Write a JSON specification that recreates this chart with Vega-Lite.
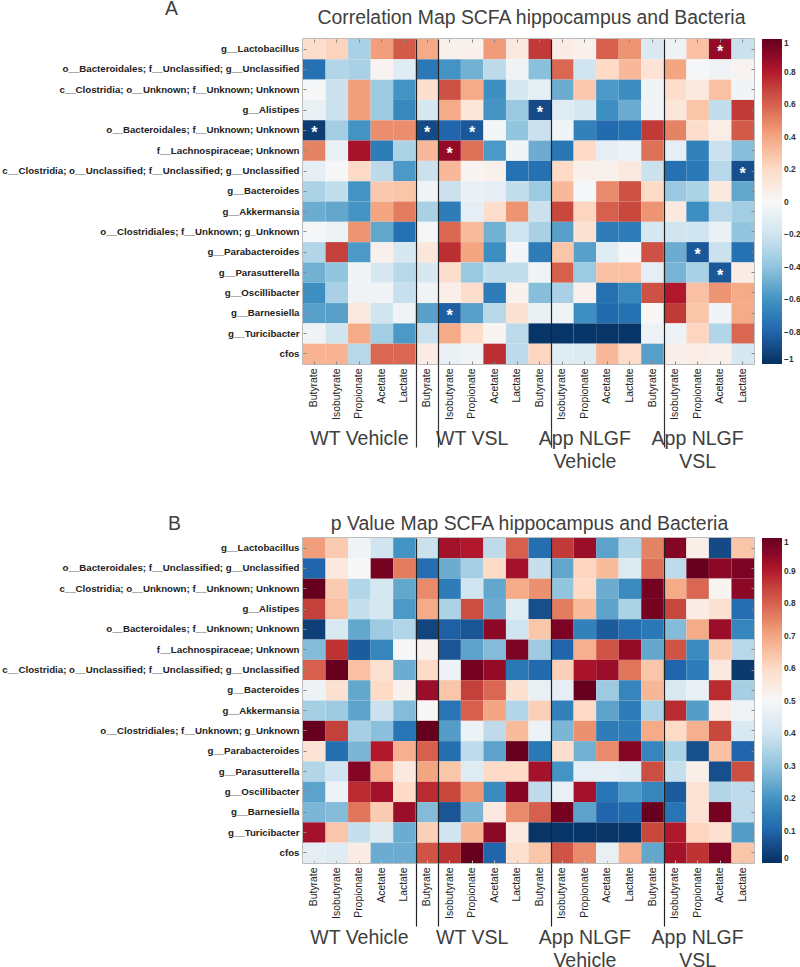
{"$schema":"https://vega.github.io/schema/vega-lite/v6.json","background":"white","padding":{"left":0,"top":-3,"right":0,"bottom":0},"spacing":40,"resolve":{"scale":{"color":"independent"},"legend":{"color":"independent"}},"params":[{"name":"taxa","value":["g__Lactobacillus","o__Bacteroidales; f__Unclassified; g__Unclassified","c__Clostridia; o__Unknown; f__Unknown; Unknown","g__Alistipes","o__Bacteroidales; f__Unknown; Unknown","f__Lachnospiraceae; Unknown","c__Clostridia; o__Unclassified; f__Unclassified; g__Unclassified","g__Bacteroides","g__Akkermansia","o__Clostridiales; f__Unknown; g_Unknown","g__Parabacteroides","g__Parasutterella","g__Oscillibacter","g__Barnesiella","g__Turicibacter","cfos"]},{"name":"acids","value":["Butyrate","Isobutyrate","Propionate","Acetate","Lactate"]}],"config":{"font":"Liberation Sans","view":{"stroke":"#a8a8a8","strokeWidth":1.5},"axis":{"labelOverlap":false,"labelBound":false,"labelFlush":false}},"datasets":{"stars":[{"row":1,"col":19},{"row":4,"col":11},{"row":5,"col":1},{"row":5,"col":6},{"row":5,"col":8},{"row":6,"col":7},{"row":7,"col":20},{"row":11,"col":18},{"row":12,"col":19},{"row":14,"col":7}],"corr":[{"row":1,"col":1,"value":0.18},{"row":1,"col":2,"value":0.23},{"row":1,"col":3,"value":-0.33},{"row":1,"col":4,"value":0.42},{"row":1,"col":5,"value":0.62},{"row":1,"col":6,"value":0.38},{"row":1,"col":7,"value":0.05},{"row":1,"col":8,"value":0.05},{"row":1,"col":9,"value":0.43},{"row":1,"col":10,"value":0.1},{"row":1,"col":11,"value":0.72},{"row":1,"col":12,"value":0.08},{"row":1,"col":13,"value":0.05},{"row":1,"col":14,"value":0.6},{"row":1,"col":15,"value":0.45},{"row":1,"col":16,"value":-0.15},{"row":1,"col":17,"value":-0.05},{"row":1,"col":18,"value":0.3},{"row":1,"col":19,"value":0.88},{"row":1,"col":20,"value":-0.22},{"row":2,"col":1,"value":-0.75},{"row":2,"col":2,"value":-0.3},{"row":2,"col":3,"value":-0.33},{"row":2,"col":4,"value":0.03},{"row":2,"col":5,"value":-0.12},{"row":2,"col":6,"value":-0.72},{"row":2,"col":7,"value":-0.6},{"row":2,"col":8,"value":-0.48},{"row":2,"col":9,"value":-0.27},{"row":2,"col":10,"value":-0.04},{"row":2,"col":11,"value":-0.42},{"row":2,"col":12,"value":0.58},{"row":2,"col":13,"value":-0.2},{"row":2,"col":14,"value":0.2},{"row":2,"col":15,"value":0.33},{"row":2,"col":16,"value":0.14},{"row":2,"col":17,"value":0.4},{"row":2,"col":18,"value":-0.01},{"row":2,"col":19,"value":-0.04},{"row":2,"col":20,"value":0.03},{"row":3,"col":1,"value":-0.01},{"row":3,"col":2,"value":-0.22},{"row":3,"col":3,"value":0.42},{"row":3,"col":4,"value":-0.37},{"row":3,"col":5,"value":-0.6},{"row":3,"col":6,"value":0.17},{"row":3,"col":7,"value":0.65},{"row":3,"col":8,"value":0.38},{"row":3,"col":9,"value":-0.62},{"row":3,"col":10,"value":-0.17},{"row":3,"col":11,"value":-0.1},{"row":3,"col":12,"value":-0.5},{"row":3,"col":13,"value":0.27},{"row":3,"col":14,"value":-0.58},{"row":3,"col":15,"value":-0.63},{"row":3,"col":16,"value":-0.03},{"row":3,"col":17,"value":0.18},{"row":3,"col":18,"value":0.1},{"row":3,"col":19,"value":0.3},{"row":3,"col":20,"value":-0.03},{"row":4,"col":1,"value":-0.08},{"row":4,"col":2,"value":-0.22},{"row":4,"col":3,"value":0.42},{"row":4,"col":4,"value":-0.37},{"row":4,"col":5,"value":-0.65},{"row":4,"col":6,"value":-0.17},{"row":4,"col":7,"value":0.38},{"row":4,"col":8,"value":0.12},{"row":4,"col":9,"value":-0.6},{"row":4,"col":10,"value":-0.38},{"row":4,"col":11,"value":-0.9},{"row":4,"col":12,"value":-0.12},{"row":4,"col":13,"value":-0.18},{"row":4,"col":14,"value":-0.62},{"row":4,"col":15,"value":-0.5},{"row":4,"col":16,"value":-0.03},{"row":4,"col":17,"value":0.12},{"row":4,"col":18,"value":0.28},{"row":4,"col":19,"value":-0.25},{"row":4,"col":20,"value":0.72},{"row":5,"col":1,"value":-0.95},{"row":5,"col":2,"value":-0.35},{"row":5,"col":3,"value":-0.6},{"row":5,"col":4,"value":0.47},{"row":5,"col":5,"value":0.47},{"row":5,"col":6,"value":-0.9},{"row":5,"col":7,"value":-0.8},{"row":5,"col":8,"value":-0.85},{"row":5,"col":9,"value":-0.02},{"row":5,"col":10,"value":-0.4},{"row":5,"col":11,"value":-0.22},{"row":5,"col":12,"value":-0.03},{"row":5,"col":13,"value":-0.68},{"row":5,"col":14,"value":-0.78},{"row":5,"col":15,"value":-0.75},{"row":5,"col":16,"value":0.72},{"row":5,"col":17,"value":0.5},{"row":5,"col":18,"value":0.18},{"row":5,"col":19,"value":0.07},{"row":5,"col":20,"value":0.62},{"row":6,"col":1,"value":0.5},{"row":6,"col":2,"value":-0.07},{"row":6,"col":3,"value":0.83},{"row":6,"col":4,"value":-0.7},{"row":6,"col":5,"value":-0.32},{"row":6,"col":6,"value":0.33},{"row":6,"col":7,"value":0.88},{"row":6,"col":8,"value":0.55},{"row":6,"col":9,"value":-0.58},{"row":6,"col":10,"value":-0.03},{"row":6,"col":11,"value":-0.5},{"row":6,"col":12,"value":-0.73},{"row":6,"col":13,"value":0.2},{"row":6,"col":14,"value":-0.1},{"row":6,"col":15,"value":-0.06},{"row":6,"col":16,"value":0.55},{"row":6,"col":17,"value":-0.1},{"row":6,"col":18,"value":-0.68},{"row":6,"col":19,"value":-0.22},{"row":6,"col":20,"value":-0.43},{"row":7,"col":1,"value":-0.1},{"row":7,"col":2,"value":-0.01},{"row":7,"col":3,"value":0.2},{"row":7,"col":4,"value":-0.27},{"row":7,"col":5,"value":-0.58},{"row":7,"col":6,"value":-0.22},{"row":7,"col":7,"value":0.33},{"row":7,"col":8,"value":0.02},{"row":7,"col":9,"value":0.05},{"row":7,"col":10,"value":-0.75},{"row":7,"col":11,"value":-0.75},{"row":7,"col":12,"value":0.2},{"row":7,"col":13,"value":0.05},{"row":7,"col":14,"value":0.05},{"row":7,"col":15,"value":0.1},{"row":7,"col":16,"value":-0.22},{"row":7,"col":17,"value":-0.75},{"row":7,"col":18,"value":-0.72},{"row":7,"col":19,"value":-0.28},{"row":7,"col":20,"value":-0.88},{"row":8,"col":1,"value":-0.32},{"row":8,"col":2,"value":-0.25},{"row":8,"col":3,"value":-0.6},{"row":8,"col":4,"value":0.27},{"row":8,"col":5,"value":0.28},{"row":8,"col":6,"value":-0.04},{"row":8,"col":7,"value":-0.22},{"row":8,"col":8,"value":-0.07},{"row":8,"col":9,"value":-0.1},{"row":8,"col":10,"value":-0.25},{"row":8,"col":11,"value":-0.37},{"row":8,"col":12,"value":0.33},{"row":8,"col":13,"value":-0.01},{"row":8,"col":14,"value":0.48},{"row":8,"col":15,"value":0.65},{"row":8,"col":16,"value":0.2},{"row":8,"col":17,"value":-0.38},{"row":8,"col":18,"value":-0.32},{"row":8,"col":19,"value":0.1},{"row":8,"col":20,"value":-0.52},{"row":9,"col":1,"value":-0.5},{"row":9,"col":2,"value":-0.52},{"row":9,"col":3,"value":-0.6},{"row":9,"col":4,"value":0.4},{"row":9,"col":5,"value":0.52},{"row":9,"col":6,"value":-0.33},{"row":9,"col":7,"value":-0.7},{"row":9,"col":8,"value":-0.1},{"row":9,"col":9,"value":0.18},{"row":9,"col":10,"value":0.45},{"row":9,"col":11,"value":-0.22},{"row":9,"col":12,"value":0.68},{"row":9,"col":13,"value":0.22},{"row":9,"col":14,"value":0.6},{"row":9,"col":15,"value":0.68},{"row":9,"col":16,"value":0.45},{"row":9,"col":17,"value":0.1},{"row":9,"col":18,"value":-0.62},{"row":9,"col":19,"value":-0.28},{"row":9,"col":20,"value":-0.35},{"row":10,"col":1,"value":-0.01},{"row":10,"col":2,"value":-0.06},{"row":10,"col":3,"value":0.45},{"row":10,"col":4,"value":-0.52},{"row":10,"col":5,"value":-0.75},{"row":10,"col":6,"value":-0.01},{"row":10,"col":7,"value":0.58},{"row":10,"col":8,"value":0.32},{"row":10,"col":9,"value":-0.48},{"row":10,"col":10,"value":-0.2},{"row":10,"col":11,"value":-0.33},{"row":10,"col":12,"value":-0.55},{"row":10,"col":13,"value":0.15},{"row":10,"col":14,"value":-0.7},{"row":10,"col":15,"value":-0.7},{"row":10,"col":16,"value":-0.18},{"row":10,"col":17,"value":-0.2},{"row":10,"col":18,"value":-0.2},{"row":10,"col":19,"value":-0.07},{"row":10,"col":20,"value":-0.4},{"row":11,"col":1,"value":-0.3},{"row":11,"col":2,"value":0.7},{"row":11,"col":3,"value":-0.58},{"row":11,"col":4,"value":0.05},{"row":11,"col":5,"value":-0.17},{"row":11,"col":6,"value":0.12},{"row":11,"col":7,"value":0.75},{"row":11,"col":8,"value":0.4},{"row":11,"col":9,"value":-0.62},{"row":11,"col":10,"value":-0.02},{"row":11,"col":11,"value":-0.7},{"row":11,"col":12,"value":0.28},{"row":11,"col":13,"value":-0.55},{"row":11,"col":14,"value":-0.12},{"row":11,"col":15,"value":-0.02},{"row":11,"col":16,"value":0.65},{"row":11,"col":17,"value":-0.5},{"row":11,"col":18,"value":-0.85},{"row":11,"col":19,"value":-0.22},{"row":11,"col":20,"value":-0.75},{"row":12,"col":1,"value":-0.48},{"row":12,"col":2,"value":-0.4},{"row":12,"col":3,"value":-0.03},{"row":12,"col":4,"value":-0.17},{"row":12,"col":5,"value":-0.28},{"row":12,"col":6,"value":-0.17},{"row":12,"col":7,"value":0.18},{"row":12,"col":8,"value":-0.38},{"row":12,"col":9,"value":-0.25},{"row":12,"col":10,"value":-0.25},{"row":12,"col":11,"value":-0.04},{"row":12,"col":12,"value":0.6},{"row":12,"col":13,"value":-0.37},{"row":12,"col":14,"value":0.3},{"row":12,"col":15,"value":0.3},{"row":12,"col":16,"value":-0.1},{"row":12,"col":17,"value":-0.47},{"row":12,"col":18,"value":-0.33},{"row":12,"col":19,"value":-0.85},{"row":12,"col":20,"value":0.08},{"row":13,"col":1,"value":-0.62},{"row":13,"col":2,"value":-0.33},{"row":13,"col":3,"value":-0.04},{"row":13,"col":4,"value":-0.04},{"row":13,"col":5,"value":-0.23},{"row":13,"col":6,"value":-0.04},{"row":13,"col":7,"value":0.06},{"row":13,"col":8,"value":0.18},{"row":13,"col":9,"value":-0.7},{"row":13,"col":10,"value":0.04},{"row":13,"col":11,"value":-0.43},{"row":13,"col":12,"value":-0.33},{"row":13,"col":13,"value":0.05},{"row":13,"col":14,"value":-0.75},{"row":13,"col":15,"value":-0.65},{"row":13,"col":16,"value":0.65},{"row":13,"col":17,"value":0.8},{"row":13,"col":18,"value":0.3},{"row":13,"col":19,"value":0.45},{"row":13,"col":20,"value":0.38},{"row":14,"col":1,"value":-0.55},{"row":14,"col":2,"value":-0.55},{"row":14,"col":3,"value":0.1},{"row":14,"col":4,"value":-0.2},{"row":14,"col":5,"value":-0.04},{"row":14,"col":6,"value":-0.55},{"row":14,"col":7,"value":-0.82},{"row":14,"col":8,"value":-0.55},{"row":14,"col":9,"value":-0.28},{"row":14,"col":10,"value":0.15},{"row":14,"col":11,"value":-0.08},{"row":14,"col":12,"value":-0.04},{"row":14,"col":13,"value":-0.62},{"row":14,"col":14,"value":-0.78},{"row":14,"col":15,"value":-0.75},{"row":14,"col":16,"value":0.01},{"row":14,"col":17,"value":0.72},{"row":14,"col":18,"value":0.28},{"row":14,"col":19,"value":-0.04},{"row":14,"col":20,"value":0.38},{"row":15,"col":1,"value":-0.04},{"row":15,"col":2,"value":-0.2},{"row":15,"col":3,"value":0.38},{"row":15,"col":4,"value":-0.35},{"row":15,"col":5,"value":-0.58},{"row":15,"col":6,"value":-0.22},{"row":15,"col":7,"value":0.38},{"row":15,"col":8,"value":0.18},{"row":15,"col":9,"value":0.02},{"row":15,"col":10,"value":-0.27},{"row":15,"col":11,"value":-0.98},{"row":15,"col":12,"value":-0.98},{"row":15,"col":13,"value":-0.98},{"row":15,"col":14,"value":-0.98},{"row":15,"col":15,"value":-0.98},{"row":15,"col":16,"value":-0.06},{"row":15,"col":17,"value":-0.06},{"row":15,"col":18,"value":0.22},{"row":15,"col":19,"value":-0.3},{"row":15,"col":20,"value":0.58},{"row":16,"col":1,"value":0.35},{"row":16,"col":2,"value":0.35},{"row":16,"col":3,"value":-0.28},{"row":16,"col":4,"value":0.58},{"row":16,"col":5,"value":0.58},{"row":16,"col":6,"value":0.08},{"row":16,"col":7,"value":-0.07},{"row":16,"col":8,"value":-0.03},{"row":16,"col":9,"value":0.75},{"row":16,"col":10,"value":-0.27},{"row":16,"col":11,"value":0.22},{"row":16,"col":12,"value":-0.12},{"row":16,"col":13,"value":-0.13},{"row":16,"col":14,"value":0.33},{"row":16,"col":15,"value":0.18},{"row":16,"col":16,"value":-0.55},{"row":16,"col":17,"value":0.06},{"row":16,"col":18,"value":0.07},{"row":16,"col":19,"value":0.05},{"row":16,"col":20,"value":-0.17}],"pval":[{"row":1,"col":1,"value":0.71},{"row":1,"col":2,"value":0.63},{"row":1,"col":3,"value":0.48},{"row":1,"col":4,"value":0.4},{"row":1,"col":5,"value":0.2},{"row":1,"col":6,"value":0.39},{"row":1,"col":7,"value":0.92},{"row":1,"col":8,"value":0.9},{"row":1,"col":9,"value":0.37},{"row":1,"col":10,"value":0.8},{"row":1,"col":11,"value":0.12},{"row":1,"col":12,"value":0.86},{"row":1,"col":13,"value":0.93},{"row":1,"col":14,"value":0.23},{"row":1,"col":15,"value":0.35},{"row":1,"col":16,"value":0.75},{"row":1,"col":17,"value":0.96},{"row":1,"col":18,"value":0.53},{"row":1,"col":19,"value":0.05},{"row":1,"col":20,"value":0.64},{"row":2,"col":1,"value":0.1},{"row":2,"col":2,"value":0.55},{"row":2,"col":3,"value":0.5},{"row":2,"col":4,"value":0.98},{"row":2,"col":5,"value":0.76},{"row":2,"col":6,"value":0.12},{"row":2,"col":7,"value":0.25},{"row":2,"col":8,"value":0.33},{"row":2,"col":9,"value":0.6},{"row":2,"col":10,"value":0.92},{"row":2,"col":11,"value":0.38},{"row":2,"col":12,"value":0.24},{"row":2,"col":13,"value":0.61},{"row":2,"col":14,"value":0.66},{"row":2,"col":15,"value":0.43},{"row":2,"col":16,"value":0.78},{"row":2,"col":17,"value":0.37},{"row":2,"col":18,"value":1.0},{"row":2,"col":19,"value":0.95},{"row":2,"col":20,"value":0.97},{"row":3,"col":1,"value":1.0},{"row":3,"col":2,"value":0.63},{"row":3,"col":3,"value":0.35},{"row":3,"col":4,"value":0.41},{"row":3,"col":5,"value":0.24},{"row":3,"col":6,"value":0.74},{"row":3,"col":7,"value":0.15},{"row":3,"col":8,"value":0.4},{"row":3,"col":9,"value":0.24},{"row":3,"col":10,"value":0.69},{"row":3,"col":11,"value":0.73},{"row":3,"col":12,"value":0.3},{"row":3,"col":13,"value":0.6},{"row":3,"col":14,"value":0.25},{"row":3,"col":15,"value":0.18},{"row":3,"col":16,"value":0.98},{"row":3,"col":17,"value":0.69},{"row":3,"col":18,"value":0.79},{"row":3,"col":19,"value":0.51},{"row":3,"col":20,"value":0.95},{"row":4,"col":1,"value":0.85},{"row":4,"col":2,"value":0.65},{"row":4,"col":3,"value":0.38},{"row":4,"col":4,"value":0.41},{"row":4,"col":5,"value":0.21},{"row":4,"col":6,"value":0.69},{"row":4,"col":7,"value":0.34},{"row":4,"col":8,"value":0.83},{"row":4,"col":9,"value":0.25},{"row":4,"col":10,"value":0.44},{"row":4,"col":11,"value":0.06},{"row":4,"col":12,"value":0.76},{"row":4,"col":13,"value":0.66},{"row":4,"col":14,"value":0.23},{"row":4,"col":15,"value":0.34},{"row":4,"col":16,"value":0.98},{"row":4,"col":17,"value":0.84},{"row":4,"col":18,"value":0.54},{"row":4,"col":19,"value":0.58},{"row":4,"col":20,"value":0.12},{"row":5,"col":1,"value":0.03},{"row":5,"col":2,"value":0.42},{"row":5,"col":3,"value":0.24},{"row":5,"col":4,"value":0.32},{"row":5,"col":5,"value":0.35},{"row":5,"col":6,"value":0.04},{"row":5,"col":7,"value":0.09},{"row":5,"col":8,"value":0.07},{"row":5,"col":9,"value":0.95},{"row":5,"col":10,"value":0.4},{"row":5,"col":11,"value":0.64},{"row":5,"col":12,"value":0.97},{"row":5,"col":13,"value":0.16},{"row":5,"col":14,"value":0.08},{"row":5,"col":15,"value":0.12},{"row":5,"col":16,"value":0.14},{"row":5,"col":17,"value":0.28},{"row":5,"col":18,"value":0.69},{"row":5,"col":19,"value":0.93},{"row":5,"col":20,"value":0.17},{"row":6,"col":1,"value":0.28},{"row":6,"col":2,"value":0.87},{"row":6,"col":3,"value":0.08},{"row":6,"col":4,"value":0.17},{"row":6,"col":5,"value":0.5},{"row":6,"col":6,"value":0.52},{"row":6,"col":7,"value":0.07},{"row":6,"col":8,"value":0.23},{"row":6,"col":9,"value":0.28},{"row":6,"col":10,"value":0.97},{"row":6,"col":11,"value":0.32},{"row":6,"col":12,"value":0.1},{"row":6,"col":13,"value":0.68},{"row":6,"col":14,"value":0.82},{"row":6,"col":15,"value":0.94},{"row":6,"col":16,"value":0.24},{"row":6,"col":17,"value":0.82},{"row":6,"col":18,"value":0.18},{"row":6,"col":19,"value":0.63},{"row":6,"col":20,"value":0.36},{"row":7,"col":1,"value":0.8},{"row":7,"col":2,"value":1.0},{"row":7,"col":3,"value":0.65},{"row":7,"col":4,"value":0.58},{"row":7,"col":5,"value":0.25},{"row":7,"col":6,"value":0.6},{"row":7,"col":7,"value":0.47},{"row":7,"col":8,"value":0.98},{"row":7,"col":9,"value":0.94},{"row":7,"col":10,"value":0.14},{"row":7,"col":11,"value":0.11},{"row":7,"col":12,"value":0.62},{"row":7,"col":13,"value":0.91},{"row":7,"col":14,"value":0.93},{"row":7,"col":15,"value":0.77},{"row":7,"col":16,"value":0.64},{"row":7,"col":17,"value":0.1},{"row":7,"col":18,"value":0.15},{"row":7,"col":19,"value":0.55},{"row":7,"col":20,"value":0.02},{"row":8,"col":1,"value":0.47},{"row":8,"col":2,"value":0.58},{"row":8,"col":3,"value":0.24},{"row":8,"col":4,"value":0.6},{"row":8,"col":5,"value":0.52},{"row":8,"col":6,"value":0.93},{"row":8,"col":7,"value":0.64},{"row":8,"col":8,"value":0.85},{"row":8,"col":9,"value":0.79},{"row":8,"col":10,"value":0.58},{"row":8,"col":11,"value":0.46},{"row":8,"col":12,"value":0.45},{"row":8,"col":13,"value":1.0},{"row":8,"col":14,"value":0.32},{"row":8,"col":15,"value":0.17},{"row":8,"col":16,"value":0.67},{"row":8,"col":17,"value":0.42},{"row":8,"col":18,"value":0.46},{"row":8,"col":19,"value":0.88},{"row":8,"col":20,"value":0.33},{"row":9,"col":1,"value":0.33},{"row":9,"col":2,"value":0.32},{"row":9,"col":3,"value":0.23},{"row":9,"col":4,"value":0.39},{"row":9,"col":5,"value":0.28},{"row":9,"col":6,"value":0.5},{"row":9,"col":7,"value":0.13},{"row":9,"col":8,"value":0.8},{"row":9,"col":9,"value":0.7},{"row":9,"col":10,"value":0.35},{"row":9,"col":11,"value":0.62},{"row":9,"col":12,"value":0.16},{"row":9,"col":13,"value":0.6},{"row":9,"col":14,"value":0.23},{"row":9,"col":15,"value":0.15},{"row":9,"col":16,"value":0.34},{"row":9,"col":17,"value":0.88},{"row":9,"col":18,"value":0.22},{"row":9,"col":19,"value":0.54},{"row":9,"col":20,"value":0.48},{"row":10,"col":1,"value":1.0},{"row":10,"col":2,"value":0.85},{"row":10,"col":3,"value":0.33},{"row":10,"col":4,"value":0.29},{"row":10,"col":5,"value":0.13},{"row":10,"col":6,"value":1.0},{"row":10,"col":7,"value":0.22},{"row":10,"col":8,"value":0.47},{"row":10,"col":9,"value":0.37},{"row":10,"col":10,"value":0.66},{"row":10,"col":11,"value":0.47},{"row":10,"col":12,"value":0.27},{"row":10,"col":13,"value":0.73},{"row":10,"col":14,"value":0.15},{"row":10,"col":15,"value":0.15},{"row":10,"col":16,"value":0.69},{"row":10,"col":17,"value":0.6},{"row":10,"col":18,"value":0.68},{"row":10,"col":19,"value":0.84},{"row":10,"col":20,"value":0.42},{"row":11,"col":1,"value":0.57},{"row":11,"col":2,"value":0.12},{"row":11,"col":3,"value":0.27},{"row":11,"col":4,"value":0.9},{"row":11,"col":5,"value":0.68},{"row":11,"col":6,"value":0.8},{"row":11,"col":7,"value":0.12},{"row":11,"col":8,"value":0.37},{"row":11,"col":9,"value":0.23},{"row":11,"col":10,"value":1.0},{"row":11,"col":11,"value":0.14},{"row":11,"col":12,"value":0.59},{"row":11,"col":13,"value":0.26},{"row":11,"col":14,"value":0.74},{"row":11,"col":15,"value":0.96},{"row":11,"col":16,"value":0.17},{"row":11,"col":17,"value":0.34},{"row":11,"col":18,"value":0.06},{"row":11,"col":19,"value":0.65},{"row":11,"col":20,"value":0.1},{"row":12,"col":1,"value":0.35},{"row":12,"col":2,"value":0.4},{"row":12,"col":3,"value":0.96},{"row":12,"col":4,"value":0.68},{"row":12,"col":5,"value":0.55},{"row":12,"col":6,"value":0.7},{"row":12,"col":7,"value":0.64},{"row":12,"col":8,"value":0.44},{"row":12,"col":9,"value":0.6},{"row":12,"col":10,"value":0.6},{"row":12,"col":11,"value":0.92},{"row":12,"col":12,"value":0.2},{"row":12,"col":13,"value":0.45},{"row":12,"col":14,"value":0.45},{"row":12,"col":15,"value":0.44},{"row":12,"col":16,"value":0.83},{"row":12,"col":17,"value":0.38},{"row":12,"col":18,"value":0.53},{"row":12,"col":19,"value":0.06},{"row":12,"col":20,"value":0.83},{"row":13,"col":1,"value":0.23},{"row":13,"col":2,"value":0.47},{"row":13,"col":3,"value":0.88},{"row":13,"col":4,"value":0.92},{"row":13,"col":5,"value":0.6},{"row":13,"col":6,"value":0.88},{"row":13,"col":7,"value":0.84},{"row":13,"col":8,"value":0.72},{"row":13,"col":9,"value":0.18},{"row":13,"col":10,"value":0.96},{"row":13,"col":11,"value":0.37},{"row":13,"col":12,"value":0.46},{"row":13,"col":13,"value":0.92},{"row":13,"col":14,"value":0.13},{"row":13,"col":15,"value":0.21},{"row":13,"col":16,"value":0.17},{"row":13,"col":17,"value":0.08},{"row":13,"col":18,"value":0.57},{"row":13,"col":19,"value":0.35},{"row":13,"col":20,"value":0.37},{"row":14,"col":1,"value":0.27},{"row":14,"col":2,"value":0.28},{"row":14,"col":3,"value":0.77},{"row":14,"col":4,"value":0.63},{"row":14,"col":5,"value":0.93},{"row":14,"col":6,"value":0.28},{"row":14,"col":7,"value":0.07},{"row":14,"col":8,"value":0.27},{"row":14,"col":9,"value":0.55},{"row":14,"col":10,"value":0.74},{"row":14,"col":11,"value":0.8},{"row":14,"col":12,"value":0.98},{"row":14,"col":13,"value":0.23},{"row":14,"col":14,"value":0.1},{"row":14,"col":15,"value":0.11},{"row":14,"col":16,"value":1.0},{"row":14,"col":17,"value":0.13},{"row":14,"col":18,"value":0.57},{"row":14,"col":19,"value":0.98},{"row":14,"col":20,"value":0.37},{"row":15,"col":1,"value":0.92},{"row":15,"col":2,"value":0.64},{"row":15,"col":3,"value":0.38},{"row":15,"col":4,"value":0.43},{"row":15,"col":5,"value":0.25},{"row":15,"col":6,"value":0.62},{"row":15,"col":7,"value":0.4},{"row":15,"col":8,"value":0.67},{"row":15,"col":9,"value":0.95},{"row":15,"col":10,"value":0.55},{"row":15,"col":11,"value":0.01},{"row":15,"col":12,"value":0.01},{"row":15,"col":13,"value":0.01},{"row":15,"col":14,"value":0.01},{"row":15,"col":15,"value":0.01},{"row":15,"col":16,"value":0.84},{"row":15,"col":17,"value":0.9},{"row":15,"col":18,"value":0.61},{"row":15,"col":19,"value":0.58},{"row":15,"col":20,"value":0.22},{"row":16,"col":1,"value":0.45},{"row":16,"col":2,"value":0.44},{"row":16,"col":3,"value":0.54},{"row":16,"col":4,"value":0.25},{"row":16,"col":5,"value":0.25},{"row":16,"col":6,"value":0.82},{"row":16,"col":7,"value":0.87},{"row":16,"col":8,"value":1.0},{"row":16,"col":9,"value":0.1},{"row":16,"col":10,"value":0.58},{"row":16,"col":11,"value":0.64},{"row":16,"col":12,"value":0.82},{"row":16,"col":13,"value":0.74},{"row":16,"col":14,"value":0.46},{"row":16,"col":15,"value":0.68},{"row":16,"col":16,"value":0.24},{"row":16,"col":17,"value":0.92},{"row":16,"col":18,"value":0.87},{"row":16,"col":19,"value":0.97},{"row":16,"col":20,"value":0.64}]},"vconcat":[{"width":451,"height":325,"title":{"text":"Correlation Map SCFA hippocampus and Bacteria","fontSize":19.4,"fontWeight":"normal","color":"#404040","anchor":"middle","dx":3,"offset":-30},"resolve":{"axis":{"x":"independent","y":"independent"}},"layer":[{"data":{"name":"corr"},"mark":{"type":"rect"},"encoding":{"x":{"field":"col","type":"ordinal","scale":{"type":"band","paddingInner":0,"paddingOuter":0},"axis":{"orient":"bottom","title":null,"domain":false,"labelExpr":"acids[(datum.value-1)%5]","labelAngle":270,"labelFontSize":10.4,"labelColor":"#222","labelPadding":7,"tickSize":-3,"tickColor":"#888"}},"y":{"field":"row","type":"ordinal","scale":{"type":"band","paddingInner":0,"paddingOuter":0},"axis":{"orient":"left","title":"A","titleAngle":0,"titleFontSize":19.4,"titleFontWeight":"normal","titleColor":"#404040","titleX":-132,"titleY":-31,"titleAlign":"center","titleBaseline":"middle","domain":false,"labelExpr":"taxa[datum.value-1]","labelFontSize":9.7,"labelFontWeight":"bold","labelColor":"#222","labelLimit":400,"labelPadding":7,"tickSize":-3,"tickColor":"#888","minExtent":302,"maxExtent":302}},"color":{"field":"value","type":"quantitative","scale":{"domain":[-1,-0.8,-0.6,-0.4,-0.2,0,0.2,0.4,0.6,0.8,1],"range":["#053061","#2166ac","#4393c3","#92c5de","#d1e5f0","#f7f7f7","#fddbc7","#f4a582","#d6604d","#b2182b","#67001f"]},"legend":{"orient":"none","legendX":459,"legendY":0,"title":null,"direction":"vertical","gradientLength":325,"gradientThickness":20,"values":[-1,-0.8,-0.6,-0.4,-0.2,0,0.2,0.4,0.6,0.8,1],"format":"~g","labelFontSize":8.4,"labelFontWeight":"bold","labelColor":"#333","labelOverlap":false,"labelOffset":2}}}},{"data":{"name":"corr"},"transform":[{"filter":"datum.row==1&&datum.col==1"}],"mark":{"type":"rect","opacity":0},"encoding":{"x":{"field":"col","type":"ordinal","axis":{"orient":"bottom","title":null,"domain":false,"ticks":false,"values":[3,8,13,18],"labelExpr":"datum.value==3?'WT Vehicle':datum.value==8?'WT VSL':datum.value==13?['App NLGF','Vehicle']:['App NLGF','VSL']","labelAngle":0,"labelAlign":"center","labelBaseline":"top","labelFontSize":19.5,"labelColor":"#404040","labelPadding":65,"labelLineHeight":23}},"y":{"field":"row","type":"ordinal","axis":null}}},{"data":{"name":"corr"},"transform":[{"filter":"datum.row==1&&datum.col==1"}],"mark":{"type":"rect","opacity":0},"encoding":{"x":{"field":"col","type":"ordinal","axis":{"orient":"bottom","title":null,"domain":false,"labels":false,"values":[6,11,16],"tickBand":"extent","tickExtra":false,"tickSize":83,"tickColor":"#333","tickWidth":1.2,"grid":true,"gridColor":"#222","gridWidth":1.2,"gridOpacity":1,"zindex":1}},"y":{"field":"row","type":"ordinal","axis":null}}},{"data":{"name":"corr"},"transform":[{"filter":"datum.row==1&&datum.col==1"}],"mark":{"type":"rect","opacity":0},"encoding":{"x":{"field":"col","type":"ordinal","axis":{"orient":"top","title":null,"domain":false,"labels":false,"tickSize":-3,"tickColor":"#888","maxExtent":0}},"y":{"field":"row","type":"ordinal","axis":{"orient":"right","title":null,"domain":false,"labels":false,"tickSize":-3,"tickColor":"#888","maxExtent":0}}}},{"data":{"name":"stars"},"mark":{"type":"text","text":"*","color":"white","fontSize":16,"fontWeight":"bold","baseline":"middle","dy":3},"encoding":{"x":{"field":"col","type":"ordinal","axis":null},"y":{"field":"row","type":"ordinal","axis":null}}}]},{"width":451,"height":325,"title":{"text":"p Value Map SCFA hippocampus and Bacteria","fontSize":19.4,"fontWeight":"normal","color":"#404040","anchor":"middle","dx":1,"offset":-21},"resolve":{"axis":{"x":"independent","y":"independent"}},"layer":[{"data":{"name":"pval"},"mark":{"type":"rect"},"encoding":{"x":{"field":"col","type":"ordinal","scale":{"type":"band","paddingInner":0,"paddingOuter":0},"axis":{"orient":"bottom","title":null,"domain":false,"labelExpr":"acids[(datum.value-1)%5]","labelAngle":270,"labelFontSize":10.4,"labelColor":"#222","labelPadding":7,"tickSize":-3,"tickColor":"#bbb"}},"y":{"field":"row","type":"ordinal","scale":{"type":"band","paddingInner":0,"paddingOuter":0},"axis":{"orient":"left","title":"B","titleAngle":0,"titleFontSize":19.4,"titleFontWeight":"normal","titleColor":"#404040","titleX":-129,"titleY":-15,"titleAlign":"center","titleBaseline":"middle","domain":false,"labelExpr":"taxa[datum.value-1]","labelFontSize":9.7,"labelFontWeight":"bold","labelColor":"#222","labelLimit":400,"labelPadding":7,"tickSize":-3,"tickColor":"#888","minExtent":302,"maxExtent":302}},"color":{"field":"value","type":"quantitative","scale":{"domain":[0,0.1,0.2,0.3,0.4,0.5,0.6,0.7,0.8,0.9,1],"range":["#053061","#2166ac","#4393c3","#92c5de","#d1e5f0","#f7f7f7","#fddbc7","#f4a582","#d6604d","#b2182b","#67001f"]},"legend":{"orient":"none","legendX":459,"legendY":0,"title":null,"direction":"vertical","gradientLength":325,"gradientThickness":20,"values":[0,0.1,0.2,0.3,0.4,0.5,0.6,0.7,0.8,0.9,1],"format":"~g","labelFontSize":8.4,"labelFontWeight":"bold","labelColor":"#333","labelOverlap":false,"labelOffset":2}}}},{"data":{"name":"pval"},"transform":[{"filter":"datum.row==1&&datum.col==1"}],"mark":{"type":"rect","opacity":0},"encoding":{"x":{"field":"col","type":"ordinal","axis":{"orient":"bottom","title":null,"domain":false,"ticks":false,"values":[3,8,13,18],"labelExpr":"datum.value==3?'WT Vehicle':datum.value==8?'WT VSL':datum.value==13?['App NLGF','Vehicle']:['App NLGF','VSL']","labelAngle":0,"labelAlign":"center","labelBaseline":"top","labelFontSize":19.5,"labelColor":"#404040","labelPadding":65,"labelLineHeight":23}},"y":{"field":"row","type":"ordinal","axis":null}}},{"data":{"name":"pval"},"transform":[{"filter":"datum.row==1&&datum.col==1"}],"mark":{"type":"rect","opacity":0},"encoding":{"x":{"field":"col","type":"ordinal","axis":{"orient":"bottom","title":null,"domain":false,"labels":false,"values":[6,11,16],"tickBand":"extent","tickExtra":false,"tickSize":63,"tickColor":"#222","tickWidth":1.2,"grid":true,"gridColor":"#222","gridWidth":1.2,"gridOpacity":1,"zindex":1}},"y":{"field":"row","type":"ordinal","axis":null}}},{"data":{"name":"pval"},"transform":[{"filter":"datum.row==1&&datum.col==1"}],"mark":{"type":"rect","opacity":0},"encoding":{"y":{"field":"row","type":"ordinal","axis":{"orient":"right","title":null,"domain":false,"labels":false,"tickSize":-3,"tickColor":"#888","maxExtent":0}},"x":{"field":"col","type":"ordinal","axis":null}}}]}]}
